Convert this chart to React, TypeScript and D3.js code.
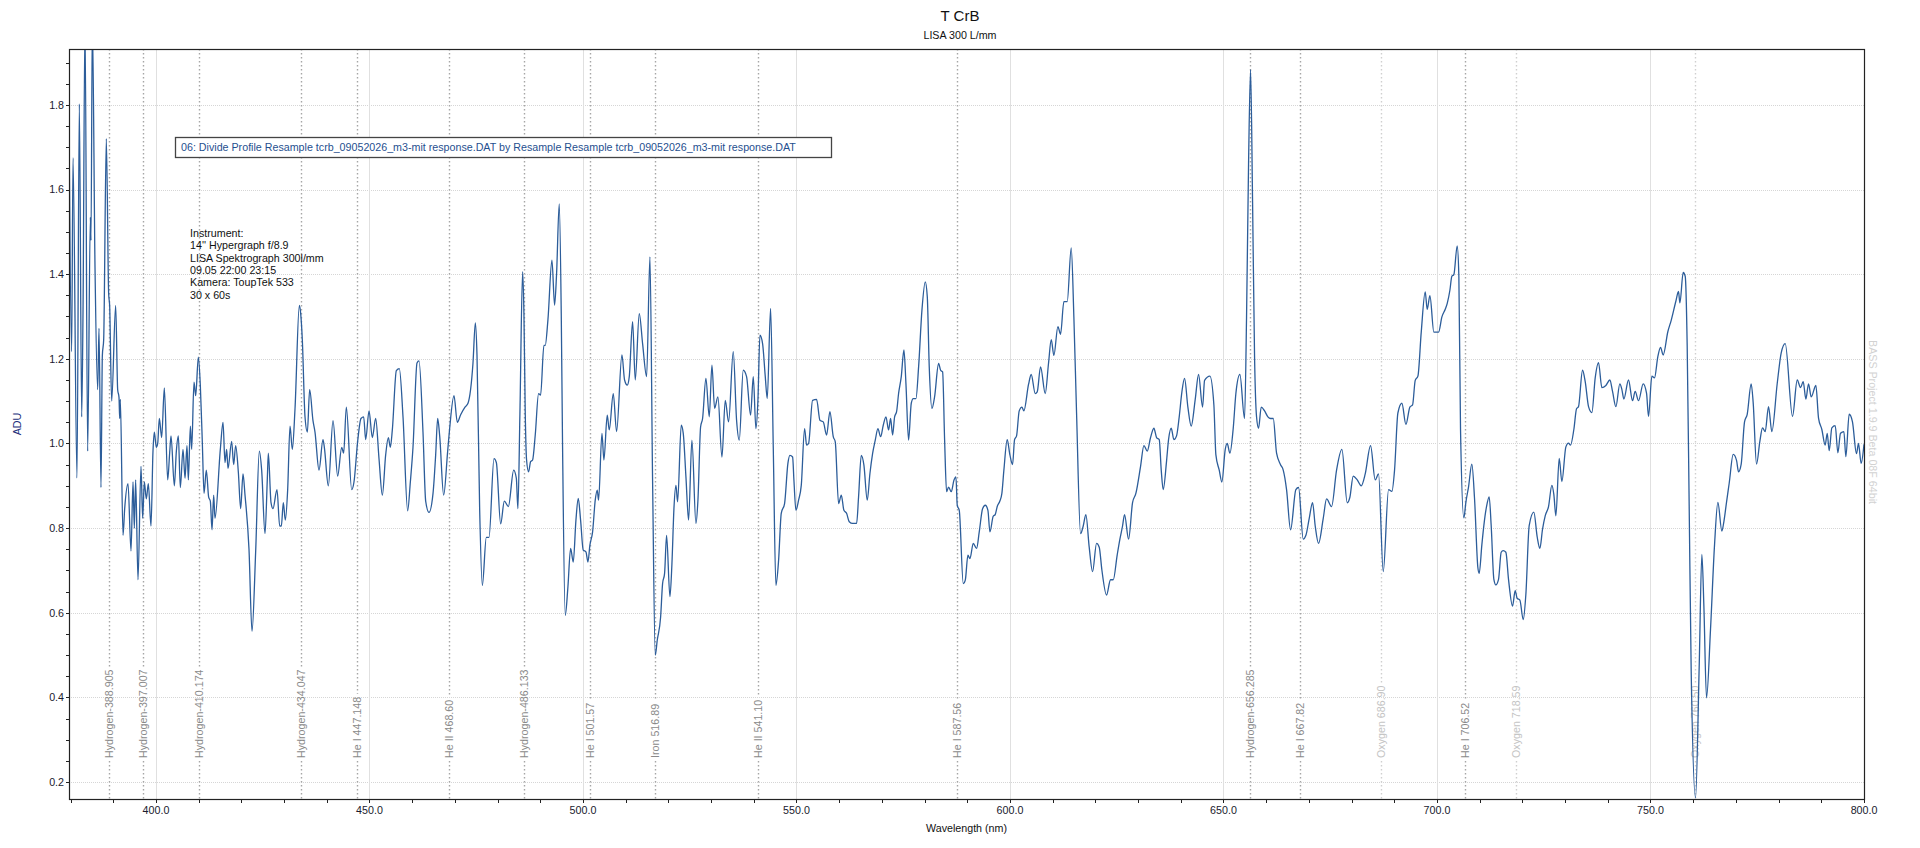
import React, { useRef, useEffect } from "react";
import { select, scaleLinear, line, curveMonotoneX, range } from "d3";

// Divided profile, wavelength (nm) against relative ADU
const spectrum: [number, number][] = [
  [379.63, 1.774], [380.25, 1.217], [380.57, 1.675], [381.5, 0.918], [382.05, 1.802], [382.6, 1.063], [382.91, 1.308], [383.38, 2.0],
  [384.0, 0.982], [384.63, 1.534], [384.78, 1.48], [385.1, 2.0], [385.72, 1.417], [386.34, 1.127], [386.66, 1.272], [387.12, 0.896],
  [387.44, 1.208], [387.75, 1.245], [388.37, 1.72], [388.92, 1.353], [389.15, 1.326], [389.62, 1.1], [390.56, 1.326], [391.03, 1.127],
  [391.34, 1.109], [391.5, 1.059], [391.65, 1.104], [392.28, 0.783], [392.67, 0.846], [393.45, 0.905], [394.15, 0.746], [394.62, 0.909],
  [394.93, 0.8], [395.24, 0.914], [395.79, 0.678], [396.49, 0.946], [396.88, 0.823], [397.27, 0.909], [397.74, 0.869], [398.21, 0.905],
  [398.83, 0.805], [399.3, 0.982], [399.61, 1.027], [400.08, 0.991], [400.4, 1.0], [400.79, 1.059], [401.33, 1.014], [401.96, 1.131],
  [402.74, 0.914], [403.2, 0.977], [403.52, 1.018], [404.3, 0.9], [404.77, 0.982], [405.24, 1.018], [405.7, 0.896], [406.33, 0.986],
  [406.8, 0.918], [407.26, 0.995], [407.58, 0.914], [408.05, 1.041], [408.36, 0.986], [408.9, 1.145], [409.3, 1.113], [409.92, 1.204],
  [410.39, 1.136], [410.86, 1.0], [411.25, 0.882], [411.79, 0.937], [412.34, 0.873], [412.73, 0.864], [413.12, 0.796], [413.51, 0.878],
  [413.82, 0.823], [415.07, 0.986], [415.7, 1.05], [416.16, 0.955], [416.55, 0.986], [416.87, 0.941], [417.72, 1.005], [418.19, 0.95],
  [418.66, 0.995], [419.29, 0.932], [419.83, 0.846], [420.38, 0.928], [420.85, 0.878], [421.78, 0.751], [422.49, 0.556], [423.35, 0.746],
  [424.2, 0.982], [424.75, 0.937], [425.53, 0.787], [426.08, 0.918], [426.31, 0.977], [426.94, 0.86], [427.4, 0.846], [428.34, 0.891],
  [428.97, 0.805], [429.36, 0.805], [429.82, 0.86], [430.29, 0.819], [430.84, 0.891], [431.39, 1.041], [431.93, 0.986], [432.56, 1.082],
  [433.57, 1.326], [433.88, 1.308], [434.27, 1.245], [434.9, 1.063], [435.45, 1.027], [435.99, 1.127], [436.77, 1.054], [437.24, 1.027],
  [438.18, 0.937], [439.11, 1.009], [439.43, 0.991], [440.36, 0.9], [441.46, 1.054], [442.55, 0.923], [443.49, 0.991], [443.95, 0.977],
  [444.58, 1.086], [445.83, 0.891], [446.37, 0.909], [447.23, 1.005], [448.01, 1.059], [448.64, 1.063], [449.11, 1.009], [449.89, 1.077],
  [450.67, 1.014], [451.45, 1.059], [452.23, 0.964], [453.01, 0.878], [453.79, 0.973], [454.42, 1.014], [454.88, 0.991], [455.35, 1.032],
  [456.29, 1.172], [456.99, 1.177], [457.85, 1.063], [458.94, 0.841], [459.57, 0.909], [460.19, 0.991], [461.13, 1.19], [461.6, 1.195],
  [462.53, 1.027], [463.16, 0.864], [463.94, 0.837], [464.88, 0.882], [465.5, 0.973], [465.97, 1.059], [466.44, 1.018], [467.37, 0.878],
  [468.31, 0.982], [468.78, 1.036], [469.79, 1.113], [470.57, 1.05], [471.35, 1.068], [472.37, 1.086], [473.07, 1.095], [474.24, 1.19],
  [474.79, 1.285], [475.18, 1.208], [475.8, 0.846], [476.43, 0.665], [477.36, 0.778], [477.99, 0.778], [479.16, 0.964], [479.71, 0.955],
  [480.72, 0.81], [481.58, 0.864], [482.52, 0.851], [483.77, 0.937], [484.39, 0.918], [484.76, 0.846], [485.23, 1.071], [485.86, 1.406],
  [486.17, 1.307], [486.48, 1.071], [486.79, 0.961], [487.26, 0.933], [487.73, 0.957], [488.2, 0.961], [488.82, 1.02], [489.6, 1.118],
  [490.07, 1.114], [490.85, 1.232], [491.16, 1.232], [491.79, 1.292], [492.73, 1.433], [493.35, 1.327], [493.82, 1.402], [494.44, 1.566],
  [494.91, 1.307], [495.22, 0.992], [495.85, 0.594], [496.47, 0.661], [497.1, 0.752], [497.72, 0.72], [498.35, 0.819], [498.89, 0.87],
  [499.44, 0.819], [500.06, 0.748], [500.69, 0.744], [501.16, 0.72], [501.62, 0.76], [502.25, 0.791], [502.87, 0.866], [503.34, 0.89],
  [503.65, 0.866], [504.44, 1.024], [504.9, 0.961], [505.68, 1.067], [506.15, 1.032], [507.09, 1.118], [507.87, 1.028], [509.12, 1.209],
  [509.74, 1.15], [510.37, 1.138], [510.84, 1.158], [511.62, 1.288], [512.24, 1.15], [513.18, 1.307], [513.96, 1.236], [514.9, 1.158],
  [515.68, 1.441], [516.3, 0.913], [516.93, 0.5], [517.39, 0.535], [518.18, 0.59], [518.64, 0.669], [519.11, 0.693], [519.58, 0.783],
  [520.36, 0.638], [520.83, 0.716], [521.3, 0.846], [521.77, 0.901], [522.16, 0.862], [523.01, 1.043], [523.48, 1.024], [524.11, 0.921],
  [524.73, 0.819], [525.51, 1.008], [526.45, 0.811], [526.92, 0.866], [527.54, 1.039], [528.01, 1.059], [528.79, 1.154], [529.57, 1.063],
  [530.2, 1.185], [530.82, 1.083], [531.6, 1.11], [532.54, 0.968], [533.32, 1.102], [534.1, 1.051], [535.19, 1.217], [535.97, 1.055],
  [536.6, 1.008], [537.53, 1.173], [538.31, 1.158], [539.25, 1.067], [539.88, 1.158], [540.5, 1.035], [540.97, 1.102], [541.44, 1.256],
  [542.06, 1.236], [542.69, 1.158], [543.15, 1.106], [543.94, 1.319], [544.56, 0.992], [545.18, 0.665], [545.81, 0.724], [546.43, 0.835],
  [547.21, 0.858], [547.99, 0.953], [548.46, 0.972], [549.09, 0.968], [549.4, 0.913], [549.87, 0.842], [550.49, 0.866], [551.12, 0.901],
  [551.9, 1.035], [552.37, 0.996], [552.83, 1.0], [553.77, 1.102], [554.71, 1.104], [555.49, 1.055], [556.27, 1.051], [557.05, 1.02],
  [557.83, 1.075], [558.61, 1.016], [559.08, 1.004], [559.86, 0.858], [560.49, 0.878], [561.11, 0.842], [561.73, 0.835], [562.36, 0.815],
  [563.14, 0.811], [564.08, 0.811], [564.54, 0.874], [565.17, 0.972], [565.79, 0.949], [566.57, 0.866], [567.2, 0.929], [567.82, 0.976],
  [568.45, 1.008], [569.07, 1.035], [569.7, 1.016], [570.32, 1.043], [570.95, 1.063], [571.57, 1.032], [572.04, 1.059], [572.51, 1.02],
  [572.98, 1.063], [573.44, 1.075], [573.91, 1.118], [574.54, 1.158], [575.16, 1.221], [575.63, 1.142], [576.25, 1.008], [576.88, 1.095],
  [577.35, 1.106], [577.97, 1.106], [578.6, 1.181], [579.38, 1.315], [580.16, 1.382], [580.63, 1.347], [581.09, 1.181], [581.72, 1.083],
  [582.34, 1.11], [583.28, 1.189], [583.75, 1.173], [584.22, 1.169], [584.69, 1.008], [585.15, 0.886], [585.62, 0.897], [586.25, 0.886],
  [586.87, 0.913], [587.34, 0.921], [587.65, 0.854], [588.12, 0.842], [589.06, 0.669], [589.53, 0.677], [590.15, 0.736], [590.62, 0.728],
  [591.4, 0.764], [592.18, 0.752], [592.8, 0.791], [593.58, 0.846], [594.21, 0.854], [594.83, 0.842], [595.3, 0.791], [596.07, 0.828],
  [596.54, 0.832], [597.01, 0.851], [597.63, 0.864], [598.1, 0.882], [598.57, 0.937], [599.35, 1.009], [599.98, 0.973], [600.6, 0.95],
  [601.07, 1.009], [601.54, 1.018], [602.16, 1.077], [602.79, 1.086], [603.25, 1.077], [604.35, 1.14], [604.97, 1.163], [605.91, 1.118],
  [606.38, 1.122], [607.16, 1.181], [608.25, 1.118], [609.03, 1.19], [609.66, 1.245], [610.28, 1.208], [611.22, 1.276], [611.84, 1.258],
  [612.62, 1.335], [613.4, 1.335], [614.34, 1.462], [614.96, 1.299], [615.59, 1.072], [616.53, 0.787], [617.15, 0.805], [617.77, 0.832],
  [618.55, 0.755], [619.34, 0.697], [620.27, 0.764], [620.9, 0.755], [621.52, 0.701], [622.61, 0.642], [623.55, 0.678], [624.18, 0.678],
  [625.11, 0.737], [625.74, 0.774], [626.36, 0.805], [626.83, 0.832], [627.77, 0.774], [628.7, 0.86], [629.48, 0.882], [630.58, 0.946],
  [631.36, 0.995], [632.14, 0.982], [632.92, 1.014], [633.7, 1.036], [634.32, 1.014], [634.95, 1.009], [635.42, 0.937], [635.88, 0.891],
  [636.67, 0.959], [637.13, 1.009], [637.76, 1.036], [638.38, 1.009], [639.01, 1.018], [639.63, 1.063], [640.26, 1.122], [640.88, 1.154],
  [641.66, 1.086], [642.44, 1.041], [643.38, 1.104], [644.16, 1.163], [645.1, 1.086], [645.57, 1.149], [646.81, 1.159], [647.75, 1.091],
  [648.22, 0.973], [649.0, 0.937], [649.62, 0.909], [650.41, 0.986], [650.87, 1.0], [651.5, 0.977], [652.28, 1.036], [652.9, 1.118],
  [653.84, 1.163], [654.93, 1.059], [655.4, 1.299], [655.87, 1.661], [656.34, 1.883], [656.81, 1.571], [657.27, 1.208], [657.74, 1.063],
  [658.21, 1.036], [658.84, 1.086], [659.62, 1.077], [660.4, 1.063], [661.02, 1.059], [661.65, 1.059], [662.43, 0.977], [663.36, 0.95],
  [663.99, 0.937], [664.77, 0.891], [665.71, 0.796], [666.95, 0.891], [667.58, 0.896], [668.67, 0.774], [669.3, 0.783], [670.08, 0.823],
  [670.86, 0.86], [671.48, 0.805], [672.26, 0.764], [673.36, 0.823], [674.14, 0.869], [675.31, 0.851], [676.48, 0.937], [677.73, 0.986],
  [678.98, 0.86], [679.6, 0.873], [680.38, 0.923], [681.32, 0.914], [682.25, 0.9], [683.19, 0.928], [684.44, 0.995], [685.53, 0.914],
  [686.31, 0.928], [687.41, 0.697], [688.66, 0.891], [689.44, 0.887], [690.06, 0.937], [690.84, 1.072], [691.78, 1.095], [692.72, 1.045],
  [693.65, 1.086], [694.28, 1.091], [694.9, 1.149], [695.53, 1.159], [696.31, 1.263], [697.24, 1.358], [697.71, 1.317], [698.34, 1.349],
  [699.27, 1.263], [700.37, 1.263], [701.15, 1.299], [701.93, 1.317], [702.4, 1.331], [703.02, 1.362], [703.48, 1.395], [703.95, 1.399],
  [704.73, 1.467], [705.12, 1.395], [705.51, 1.033], [706.29, 0.824], [706.76, 0.861], [707.38, 0.897], [708.16, 0.951], [708.79, 0.87],
  [709.57, 0.707], [709.88, 0.693], [710.51, 0.761], [710.97, 0.806], [711.6, 0.851], [712.22, 0.874], [712.69, 0.806], [713.32, 0.679],
  [713.78, 0.666], [714.41, 0.679], [715.03, 0.743], [715.5, 0.747], [716.13, 0.743], [716.75, 0.679], [717.69, 0.616], [718.31, 0.652],
  [718.78, 0.634], [719.41, 0.63], [720.19, 0.584], [720.81, 0.643], [721.59, 0.806], [722.68, 0.838], [723.47, 0.779], [724.09, 0.752],
  [724.71, 0.797], [725.34, 0.829], [726.12, 0.851], [726.9, 0.901], [727.37, 0.879], [727.84, 0.829], [728.62, 0.965], [729.24, 0.91],
  [730.18, 0.992], [730.8, 1.001], [731.27, 0.996], [732.05, 1.033], [732.68, 1.082], [733.14, 1.087], [734.08, 1.173], [734.71, 1.146],
  [735.49, 1.087], [736.27, 1.073], [737.05, 1.155], [737.83, 1.191], [738.61, 1.132], [739.55, 1.137], [740.48, 1.15], [741.11, 1.123],
  [741.89, 1.087], [742.82, 1.141], [743.29, 1.128], [743.76, 1.105], [744.85, 1.15], [745.79, 1.101], [746.41, 1.123], [747.2, 1.101],
  [748.29, 1.141], [749.07, 1.119], [749.54, 1.064], [750.32, 1.159], [750.94, 1.155], [751.72, 1.205], [752.35, 1.227], [752.97, 1.209],
  [754.06, 1.264], [754.85, 1.291], [755.94, 1.336], [756.56, 1.359], [756.88, 1.332], [757.66, 1.404], [758.13, 1.395], [758.59, 1.232],
  [759.06, 0.851], [759.53, 0.462], [760.55, 0.163], [761.4, 0.471], [762.03, 0.738], [762.5, 0.616], [763.12, 0.399], [764.06, 0.562],
  [765.0, 0.761], [765.78, 0.861], [766.71, 0.793], [767.18, 0.815], [767.8, 0.861], [768.43, 0.906], [769.37, 0.974], [770.15, 0.96],
  [770.62, 0.933], [771.24, 0.951], [772.02, 1.051], [772.65, 1.069], [773.58, 1.141], [774.05, 1.096], [774.83, 0.951], [775.61, 1.005],
  [776.24, 1.037], [776.86, 1.028], [777.64, 1.087], [778.42, 1.028], [779.67, 1.141], [780.61, 1.214], [781.55, 1.236], [783.26, 1.064],
  [784.36, 1.15], [785.14, 1.132], [785.76, 1.146], [786.39, 1.105], [787.01, 1.141], [787.64, 1.11], [788.73, 1.137], [789.35, 1.06],
  [790.13, 1.033], [790.91, 0.996], [791.38, 1.024], [791.85, 0.983], [792.47, 1.037], [793.26, 1.042], [793.88, 0.978], [794.5, 1.024],
  [795.29, 1.028], [795.75, 0.969], [796.53, 1.069], [797.3, 1.051], [798.24, 0.976], [798.71, 1.0], [799.33, 0.953], [800.0, 0.998],
];

// Identified lines
const lineNames = [
  "Hydrogen-388.905", "Hydrogen-397.007", "Hydrogen-410.174", "Hydrogen-434.047", "He I 447.148", "He II 468.60",
  "Hydrogen-486.133", "He I 501.57", "Iron 516.89", "He II 541.10", "He I 587.56", "Hydrogen-656.285",
  "He I 667.82", "Oxygen 686.90", "He I 706.52", "Oxygen 718.59", "Oxygen 760.50",
];
const lineWavelengths = [
  388.905, 397.007, 410.174, 434.047, 447.148, 468.6, 486.133, 501.57, 516.89, 541.1, 587.56, 656.285,
  667.82, 686.9, 706.52, 718.59, 760.5,
];
const telluricLines = ["Oxygen 686.90", "Oxygen 718.59", "Oxygen 760.50"];

const xLabelTicks = [400, 450, 500, 550, 600, 650, 700, 750, 800];
const xMinorTicks = range(380, 801, 10);
const yLabelTicks = [0.2, 0.4, 0.6, 0.8, 1.0, 1.2, 1.4, 1.6, 1.8];
const yMinorTicks = range(0.2, 1.93, 0.05);

const legendText =
  "06: Divide Profile Resample tcrb_09052026_m3-mit response.DAT by Resample Resample tcrb_09052026_m3-mit response.DAT";
const instrumentNotes = [
  "Instrument:",
  "14'' Hypergraph f/8.9",
  "LISA Spektrograph 300l/mm",
  "09.05 22:00 23:15",
  "Kamera: ToupTek 533",
  "30 x 60s",
];

const WIDTH = 1920;
const HEIGHT = 848;
const plot = { left: 69, top: 49, right: 1864, bottom: 799 };
const FONT = "'Liberation Sans', Arial, sans-serif";

function SpectrumChart() {
  const svgRef = useRef<SVGSVGElement>(null);

  useEffect(() => {
    const svg = select(svgRef.current);
    svg.selectAll("*").remove();

    const x = scaleLinear().domain([379.63, 800]).range([plot.left, plot.right]);
    const y = scaleLinear().domain([0.16, 1.932]).range([plot.bottom, plot.top]);
    const crisp = (v: number) => Math.round(v) + 0.5;

    svg.append("rect").attr("width", WIDTH).attr("height", HEIGHT).attr("fill", "#fff");

    // titles
    svg.append("text")
      .attr("x", WIDTH / 2).attr("y", 21).attr("text-anchor", "middle")
      .attr("font-family", FONT).attr("font-size", 15).attr("fill", "#111")
      .text("T CrB");
    svg.append("text")
      .attr("x", WIDTH / 2).attr("y", 39).attr("text-anchor", "middle")
      .attr("font-family", FONT).attr("font-size", 10.7).attr("fill", "#111")
      .text("LISA 300 L/mm");

    // grid
    const grid = svg.append("g").attr("stroke", "#d6d6d6").attr("stroke-width", 1);
    grid.selectAll(".hgrid").data(yLabelTicks).join("line")
      .attr("class", "hgrid")
      .attr("x1", plot.left).attr("x2", plot.right)
      .attr("y1", (d) => crisp(y(d))).attr("y2", (d) => crisp(y(d)))
      .attr("stroke-dasharray", "1,1");
    grid.selectAll(".vgrid").data(xLabelTicks.filter((d) => d < 800)).join("line")
      .attr("class", "vgrid")
      .attr("y1", plot.top).attr("y2", plot.bottom)
      .attr("x1", (d) => crisp(x(d))).attr("x2", (d) => crisp(x(d)))
      .attr("stroke", "#e0e0e0");

    // line markers with their rotated names
    const labelBase = 758;
    const markers = svg.append("g").attr("font-family", FONT).attr("font-size", 10.7);
    lineNames.forEach((name, i) => {
      const px = crisp(x(lineWavelengths[i]));
      const faint = telluricLines.includes(name);
      const color = faint ? "#c4c4c4" : "#8a8a8a";
      const label = markers.append("text")
        .attr("transform", `translate(${px},${labelBase}) rotate(-90)`)
        .attr("dy", "0.35em")
        .attr("fill", color)
        .text(name);
      const len = (label.node() as SVGTextElement).getComputedTextLength();
      const dotted = (y1: number, y2: number) =>
        markers.append("line")
          .attr("x1", px).attr("x2", px).attr("y1", y1).attr("y2", y2)
          .attr("stroke", faint ? "#cfcfcf" : "#a6a6a6")
          .attr("stroke-width", 1.4)
          .attr("stroke-dasharray", "1.5,2.5");
      dotted(plot.top, labelBase - len - 3);
      dotted(labelBase + 3, plot.bottom);
    });

    // legend box
    const legend = svg.append("g").attr("font-family", FONT).attr("font-size", 10.7);
    const legendLabel = legend.append("text")
      .attr("x", 181).attr("y", 151)
      .attr("fill", "#1f4f8f")
      .text(legendText);
    const legendLen = (legendLabel.node() as SVGTextElement).getComputedTextLength();
    legend.insert("rect", "text")
      .attr("x", 175.5).attr("y", 137.5)
      .attr("width", Math.max(656, legendLen + 12)).attr("height", 20)
      .attr("fill", "#fff").attr("stroke", "#444").attr("stroke-width", 1.3);

    // instrument notes
    svg.append("g").attr("font-family", FONT).attr("font-size", 10.7).attr("fill", "#111")
      .selectAll("text").data(instrumentNotes).join("text")
      .attr("x", 190)
      .attr("y", (d, i) => 237 + i * 12.3)
      .text((d) => d);

    // spectrum
    svg.append("clipPath").attr("id", "plot-clip")
      .append("rect")
      .attr("x", plot.left).attr("y", plot.top)
      .attr("width", plot.right - plot.left).attr("height", plot.bottom - plot.top);
    const path = line<[number, number]>()
      .x((d) => x(d[0]))
      .y((d) => y(d[1]))
      .curve(curveMonotoneX);
    svg.append("path")
      .datum(spectrum)
      .attr("clip-path", "url(#plot-clip)")
      .attr("d", path)
      .attr("fill", "none")
      .attr("stroke", "#2c5d9a")
      .attr("stroke-width", 1.3)
      .attr("stroke-linejoin", "round");

    // frame and axes
    svg.append("rect")
      .attr("x", plot.left + 0.5).attr("y", plot.top + 0.5)
      .attr("width", plot.right - plot.left).attr("height", plot.bottom - plot.top)
      .attr("fill", "none").attr("stroke", "#222").attr("stroke-width", 1.2);

    const axes = svg.append("g").attr("font-family", FONT).attr("font-size", 10.7);
    axes.selectAll(".xtick").data(xMinorTicks).join("line")
      .attr("class", "xtick")
      .attr("x1", (d) => crisp(x(d))).attr("x2", (d) => crisp(x(d)))
      .attr("y1", plot.bottom).attr("y2", plot.bottom + 4)
      .attr("stroke", "#222");
    axes.selectAll(".xlabel").data(xLabelTicks).join("text")
      .attr("class", "xlabel")
      .attr("x", (d) => x(d)).attr("y", 814)
      .attr("text-anchor", "middle").attr("fill", "#1a1a2e")
      .text((d) => d.toFixed(1));
    axes.selectAll(".ytick").data(yMinorTicks).join("line")
      .attr("class", "ytick")
      .attr("x1", plot.left - 3).attr("x2", plot.left)
      .attr("y1", (d) => crisp(y(d))).attr("y2", (d) => crisp(y(d)))
      .attr("stroke", "#222");
    axes.selectAll(".ylabel").data(yLabelTicks).join("text")
      .attr("class", "ylabel")
      .attr("x", plot.left - 5).attr("y", (d) => y(d))
      .attr("dy", "0.35em")
      .attr("text-anchor", "end").attr("fill", "#1a1a2e")
      .text((d) => d.toFixed(1));

    axes.append("text")
      .attr("x", (plot.left + plot.right) / 2).attr("y", 832)
      .attr("text-anchor", "middle").attr("fill", "#111")
      .text("Wavelength (nm)");
    axes.append("text")
      .attr("transform", `translate(17,${(plot.top + plot.bottom) / 2}) rotate(-90)`)
      .attr("dy", "0.35em")
      .attr("text-anchor", "middle").attr("fill", "#23307a")
      .text("ADU");

    // program stamp at the right margin
    svg.append("text")
      .attr("transform", `translate(1873,340) rotate(90)`)
      .attr("dy", "0.35em")
      .attr("font-family", FONT).attr("font-size", 10.7)
      .attr("fill", "#d2d2d2")
      .text("BASS Project 1.9.9 Beta 08F  64bit");
  }, []);

  return (
    <svg
      ref={svgRef}
      width={WIDTH}
      height={HEIGHT}
      style={{ position: "absolute", left: 0, top: 0, display: "block" }}
    ></svg>
  );
}

export default function App() {
  return <SpectrumChart />;
}
